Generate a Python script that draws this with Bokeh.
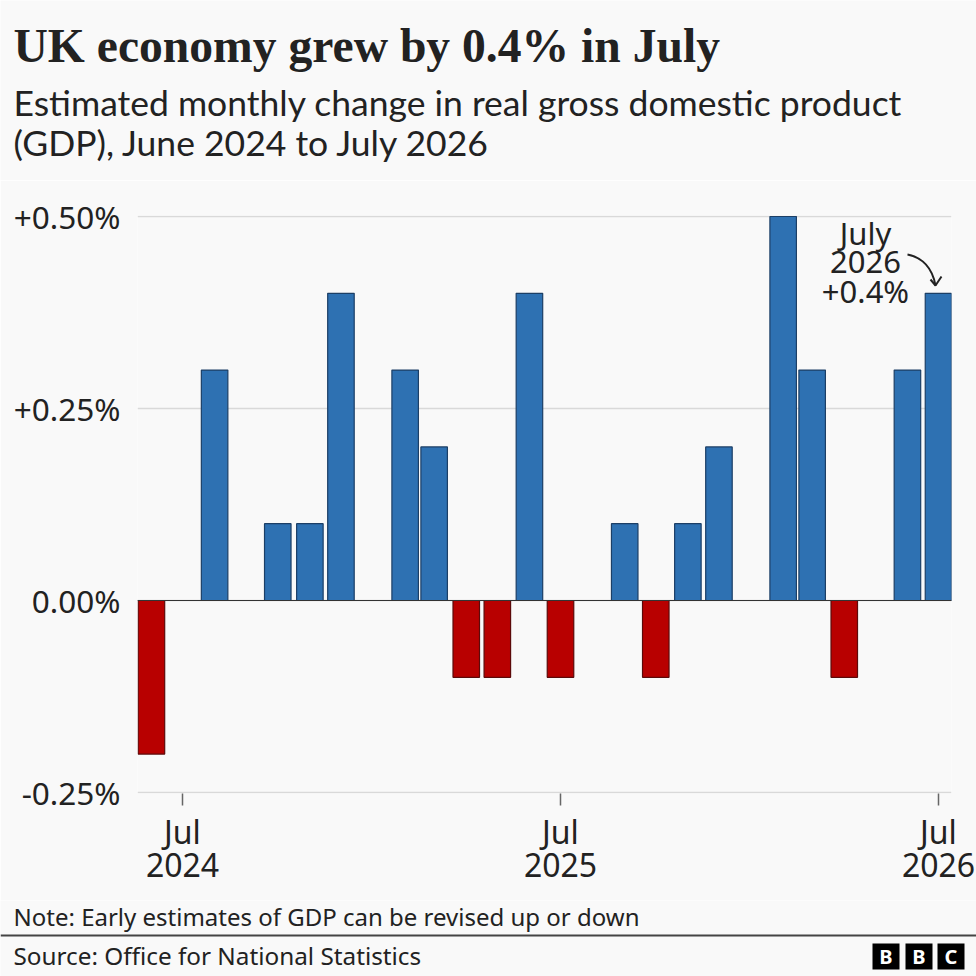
from bokeh.embed import file_html
from bokeh.resources import INLINE
from bokeh.plotting import figure
from bokeh.layouts import column
from bokeh.models import Label, BoxAnnotation, FixedTicker, ColumnDataSource, Range1d
import pandas as pd

# ---- data ----
months = ["2024-06-01","2024-07-01","2024-08-01","2024-09-01","2024-10-01","2024-11-01","2024-12-01",
          "2025-01-01","2025-02-01","2025-03-01","2025-04-01","2025-05-01","2025-06-01","2025-07-01",
          "2025-08-01","2025-09-01","2025-10-01","2025-11-01","2025-12-01","2026-01-01","2026-02-01",
          "2026-03-01","2026-04-01","2026-05-01","2026-06-01","2026-07-01"]
gdp_change = [-0.2,0,0.3,0,0.1,0.1,0.4,0,0.3,0.2,-0.1,-0.1,0.4,-0.1,0,0.1,-0.1,0.1,0.2,0,0.5,0.3,-0.1,0,0.3,0.4]
y_ticks = [-0.25,0,0.25,0.5]
y_labels = {-0.25:"-0.25%",0:"0.00%",0.25:"+0.25%",0.5:"+0.50%"}
x_tick_dates = ["2024-07-01","2025-07-01","2026-07-01"]
x_tick_labels = ["Jul\n2024","Jul\n2025","Jul\n2026"]
title_text = "UK economy grew by 0.4% in July"
subtitle_lines = ["Estimated monthly change in real gross domestic product","(GDP), June 2024 to July 2026"]
note_text = "Note: Early estimates of GDP can be revised up or down"
source_text = "Source: Office for National Statistics"
callout_lines = ["July","2026","+0.4%"]

BG="#f9f9f9"; INK="#222222"; FONT="Noto Sans"
W=976
TOP_H=180; MAIN_H=720; FOOT_H=76
px1=1/768
EPOCH=pd.Timestamp("2024-07-01")
PX_PER_DAY=378/365
def days(s): return [int(d) for d in (pd.to_datetime(s)-EPOCH).days]
def dx(px): return (px-182)/PX_PER_DAY
def dy(py): return (600-py)/768

def blank(h):
    f=figure(width=W,height=h,output_backend="svg",toolbar_location=None,x_axis_type=None,y_axis_type=None,
             x_range=Range1d(0,W),y_range=Range1d(h,0),min_border=0,frame_align=False,
             background_fill_color=BG,border_fill_color=BG,outline_line_color=None)
    f.xgrid.visible=False; f.ygrid.visible=False
    return f

head=blank(TOP_H); foot=blank(FOOT_H)

p=figure(width=W,height=MAIN_H,output_backend="svg",toolbar_location=None,frame_align=False,
         x_range=Range1d(dx(137),dx(951)),y_range=Range1d(-0.25-px1,0.5+px1),
         min_border_left=137,min_border_right=25,min_border_top=35,min_border_bottom=107,
         background_fill_color=BG,border_fill_color=BG,outline_line_color=None)

src=ColumnDataSource(dict(x=days(months),top=gdp_change,
    color=["#2e71b2" if v>=0 else "#b80000" for v in gdp_change],
    line=["#1c3f66" if v>=0 else "#5c0a0a" for v in gdp_change]))
p.vbar(x="x",top="top",bottom=0,width=25.6,fill_color="color",line_color="line",line_width=1.2,source=src)
p.hspan(y=[0],line_color="#333333",line_width=1.2)

xa=p.xaxis[0]; ya=p.yaxis[0]
x_ticks=days(x_tick_dates)
xa.ticker=FixedTicker(ticks=x_ticks); xa.major_label_overrides=dict(zip(x_ticks,x_tick_labels))
xa.axis_line_color=None; xa.major_tick_in=0; xa.major_tick_out=12; xa.major_tick_line_color="#666666"
xa.major_tick_line_width=1.5; xa.minor_tick_line_color=None
xa.major_label_text_font=FONT; xa.major_label_text_font_size="32px"; xa.major_label_text_color=INK
xa.major_label_text_line_height=0.79
xa.major_label_standoff=4
ya.ticker=FixedTicker(ticks=y_ticks); ya.major_label_overrides=y_labels
ya.axis_line_color=None; ya.major_tick_line_color=None; ya.minor_tick_line_color=None
ya.major_label_text_font=FONT; ya.major_label_text_font_size="31.5px"; ya.major_label_text_color=INK
ya.major_label_standoff=11
p.xgrid.visible=False
p.ygrid.ticker=FixedTicker(ticks=y_ticks); p.ygrid.grid_line_color="#d9d9d9"; p.ygrid.grid_line_width=1.5

p.bezier(x0=[dx(907)],y0=[dy(254)],x1=[dx(935)],y1=[dy(285)],cx0=[dx(922)],cy0=[dy(257)],cx1=[dx(932)],cy1=[dy(268)],
         line_color=INK,line_width=2)
p.multi_line(xs=[[dx(930),dx(935),dx(941)]],ys=[[dy(279),dy(285),dy(276)]],line_color=INK,line_width=2)

def text(f,s,x,y,size,align="left",font=FONT,style="normal",color=INK):
    f.add_layout(Label(x=x,y=y,text=s,text_font=font,text_font_size=f"{size}px",text_font_style=style,
        text_color=color,text_align=align,text_baseline="middle"))

text(head,title_text,13,45,47.6,font="Liberation Serif",style="bold")
text(head,subtitle_lines[0],13,102,35.5,font="Lato")
text(head,subtitle_lines[1],13,142,35.5,font="Lato")
for s,py in zip(callout_lines,[232,261,290]):
    text(p,s,dx(865),dy(py),31,align="center")
Y0=TOP_H+MAIN_H
text(foot,note_text,13,916-Y0,24)
text(foot,source_text,13,955-Y0,24.3)

def box(f,l,r,t,b,c):
    f.add_layout(BoxAnnotation(left=l,right=r,top=t,bottom=b,fill_color=c,fill_alpha=1,line_color=None))
box(foot,0,976,934-Y0,936-Y0,"#444444")
for l,ch in zip([872,905,937],"BBC"):
    box(foot,l,l+27,943-Y0,969-Y0,"#000000")
    text(foot,ch,l+13.5,956-Y0,20,align="center",style="bold",color="#ffffff")

page=column(head,p,foot,spacing=0)
open("out.html","w").write(file_html(page,INLINE))
